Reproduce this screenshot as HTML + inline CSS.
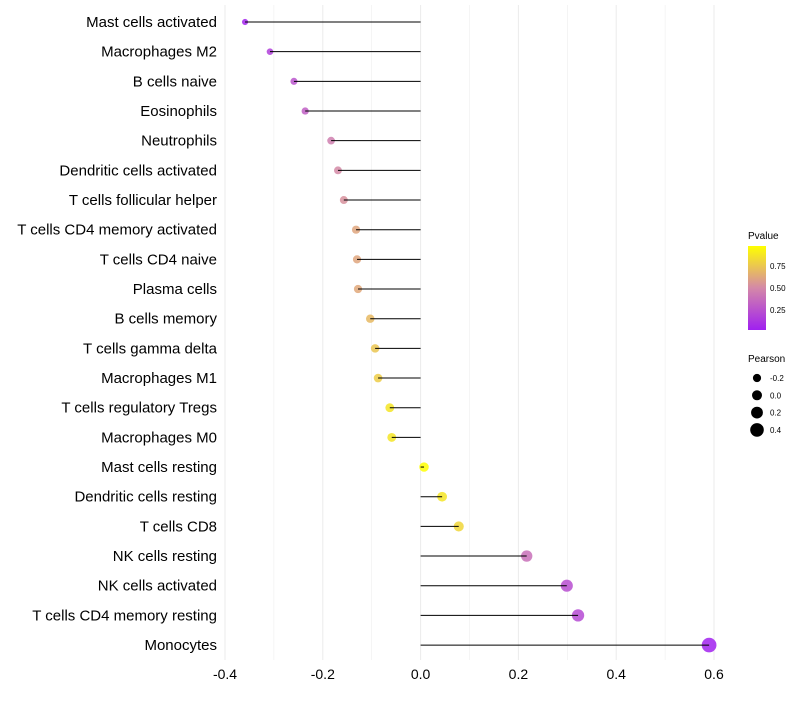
<!DOCTYPE html>
<html><head><meta charset="utf-8"><style>
body{margin:0;background:#fff;font-family:"Liberation Sans",sans-serif}
</style></head><body>
<svg id="chart" width="800" height="700" xmlns="http://www.w3.org/2000/svg">
<defs><linearGradient id="pg" x1="0" y1="1" x2="0" y2="0">
<stop offset="0" stop-color="#a020f0"/><stop offset="0.5" stop-color="#d488a8"/><stop offset="1" stop-color="#ffff00"/></linearGradient></defs>
<g id="grid"></g><g id="dots"></g><g id="marks"></g><g id="labels"></g>
<g>
<text x="748" y="239" font-size="10" fill="#000">Pvalue</text>
<rect x="748" y="246" width="18" height="84" fill="url(#pg)"/>
<text x="770" y="269" font-size="8">0.75</text>
<text x="770" y="291" font-size="8">0.50</text>
<text x="770" y="313" font-size="8">0.25</text>
</g>
<g id="sizeleg">
<text x="748" y="362" font-size="10">Pearson</text>
</g>
</svg>
<script>
const categories=["Mast cells activated","Macrophages M2","B cells naive","Eosinophils","Neutrophils","Dendritic cells activated","T cells follicular helper","T cells CD4 memory activated","T cells CD4 naive","Plasma cells","B cells memory","T cells gamma delta","Macrophages M1","T cells regulatory  Tregs","Macrophages M0","Mast cells resting","Dendritic cells resting","T cells CD8","NK cells resting","NK cells activated","T cells CD4 memory resting","Monocytes"];
const pearson=[-0.359,-0.308,-0.259,-0.236,-0.183,-0.169,-0.157,-0.132,-0.130,-0.128,-0.103,-0.093,-0.087,-0.063,-0.059,0.007,0.044,0.078,0.217,0.299,0.322,0.590];
const pvalue=[0.02,0.15,0.25,0.3,0.45,0.5,0.53,0.62,0.62,0.63,0.7,0.75,0.78,0.88,0.88,0.99,0.88,0.82,0.38,0.22,0.2,0.01];
const xTicks=[-0.4,-0.2,0.0,0.2,0.4,0.6];
const xTickLabels=["-0.4","-0.2","0.0","0.2","0.4","0.6"];
const legendVals=[-0.2,0.0,0.2,0.4];
const NS="http://www.w3.org/2000/svg";
const x=v=>420.6+v*489;
const y=i=>22+i*29.67;
const r=v=>Math.max(1.5,4.7+v*4.5);
function col(p){const t=Math.max(0,Math.min(1,p/0.99));const a=[160,32,240],m=[212,136,168],b=[255,255,0];let c;
if(t<0.5){const s=t/0.5;c=a.map((v,k)=>v+(m[k]-v)*s)}else{const s=(t-0.5)/0.5;c=m.map((v,k)=>v+(b[k]-v)*s)}
return `rgb(${c.map(Math.round).join(',')})`}
function mk(t,at,par){const e=document.createElementNS(NS,t);for(const k in at)e.setAttribute(k,at[k]);document.getElementById(par).appendChild(e);return e}
for(let v=-0.4;v<=0.61;v+=0.1){const e=mk('line',{x1:x(v),x2:x(v),y1:5,y2:660,stroke:'#ebebeb','stroke-width':Math.abs(Math.round(v*10))%2==0?1:0.5},'grid');

}
xTicks.forEach((v,i)=>{const t=mk('text',{x:x(v),y:679,'font-size':14,'text-anchor':'middle',fill:'#000'},'labels');t.textContent=xTickLabels[i];

});
categories.forEach((c,i)=>{
const t=mk('text',{x:217,y:y(i)+5,'font-size':15,'text-anchor':'end',fill:'#000'},'labels');t.textContent=c;


const l=mk('line',{x1:x(0),x2:x(pearson[i]),y1:y(i),y2:y(i),stroke:'#000','stroke-width':1},'marks');


const d=mk('circle',{cx:x(pearson[i]),cy:y(i),r:r(pearson[i]),fill:col(pvalue[i]),'fill-opacity':0.85},'dots');


});
legendVals.forEach((v,i)=>{const cy=378+i*17.3;
const d=mk('circle',{cx:757,cy:cy,r:r(v)+0.3,fill:'#000'},'sizeleg');


const t=mk('text',{x:770,y:cy+3,'font-size':8},'sizeleg');t.textContent=v.toFixed(1);

});
</script>
</body></html>
